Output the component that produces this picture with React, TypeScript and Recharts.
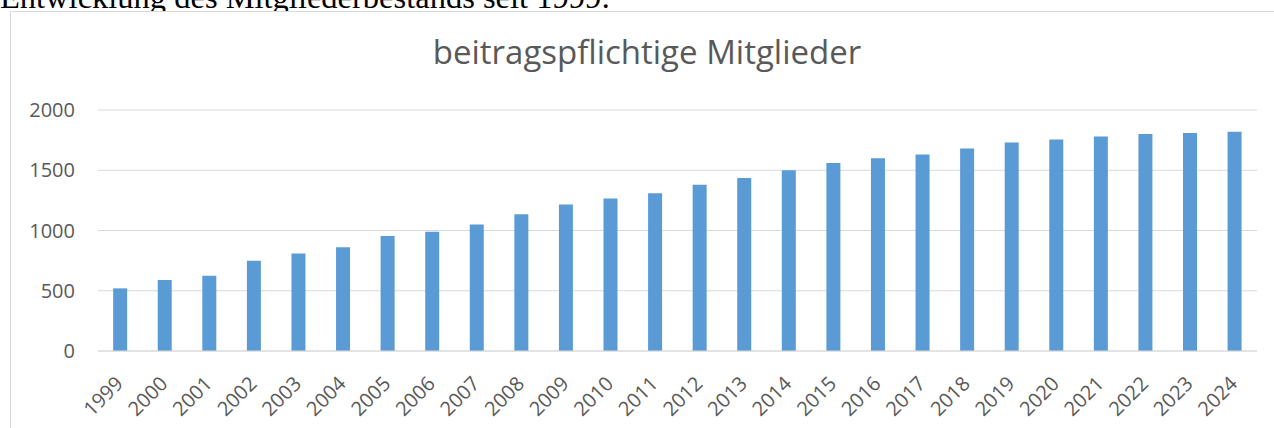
import { Bar, BarChart, CartesianGrid, XAxis, YAxis } from "recharts"

const years = [
  "1999", "2000", "2001", "2002", "2003", "2004", "2005", "2006", "2007",
  "2008", "2009", "2010", "2011", "2012", "2013", "2014", "2015", "2016",
  "2017", "2018", "2019", "2020", "2021", "2022", "2023", "2024",
]
const members = [
  520, 590, 625, 750, 810, 860, 955, 990, 1050, 1135, 1215, 1265, 1310,
  1380, 1435, 1500, 1560, 1600, 1630, 1680, 1730, 1755, 1780, 1800, 1810, 1820,
]
const yTicks = [0, 500, 1000, 1500, 2000]

const data = years.map((year, i) => ({ year, value: members[i] }))

const font = '"Open Sans", sans-serif'
const gray = "#595959"

function YearTick(props: any) {
  const { x, y, payload } = props
  return (
    <text
      x={x + 4}
      y={y}
      transform={`rotate(-45, ${x + 4}, ${y})`}
      textAnchor="end"
      fill={gray}
      fontSize={20}
      fontFamily={font}
    >
      {payload.value}
    </text>
  )
}

export default function App() {
  return (
    <div
      style={{
        position: "absolute",
        left: 0,
        top: 0,
        width: 1274,
        height: 428,
        overflow: "hidden",
        background: "#fff",
      }}
    >
      <div
        style={{
          position: "absolute",
          left: 0,
          top: -19,
          fontFamily: '"Liberation Serif", "Times New Roman", serif',
          fontSize: 32.5,
          lineHeight: "32px",
          whiteSpace: "nowrap",
          color: "#000",
        }}
      >
        Entwicklung des Mitgliederbestands seit 1999:
      </div>
      <div
        style={{
          position: "absolute",
          left: 10,
          top: 11,
          width: 1300,
          height: 500,
          border: "1px solid #d9d9d9",
          background: "#fff",
        }}
      />
      <div
        style={{
          position: "absolute",
          left: 0,
          top: 34,
          width: 1294,
          textAlign: "center",
          fontFamily: font,
          fontSize: 33,
          lineHeight: "36px",
          color: gray,
        }}
      >
        beitragspflichtige Mitglieder
      </div>
      <div style={{ position: "absolute", left: 0, top: 0 }}>
        <BarChart
          width={1274}
          height={428}
          data={data}
          margin={{ top: 110, right: 17, left: 38, bottom: 0 }}
          barCategoryGap="34%"
        >
          <CartesianGrid vertical={false} stroke="#d9d9d9" strokeWidth={1.2} />
          <XAxis
            dataKey="year"
            interval={0}
            tickLine={false}
            axisLine={{ stroke: "#d9d9d9", strokeWidth: 1.2 }}
            tickSize={0}
            tickMargin={34}
            tick={<YearTick />}
            height={77}
          />
          <YAxis
            domain={[0, 2000]}
            ticks={yTicks}
            width={60}
            tickLine={false}
            axisLine={false}
            tickSize={0}
            tickMargin={23}
            tick={{ fill: gray, fontSize: 20, fontFamily: font }}
          />
          <Bar dataKey="value" fill="#5b9bd5" isAnimationActive={false} />
        </BarChart>
      </div>
    </div>
  )
}
